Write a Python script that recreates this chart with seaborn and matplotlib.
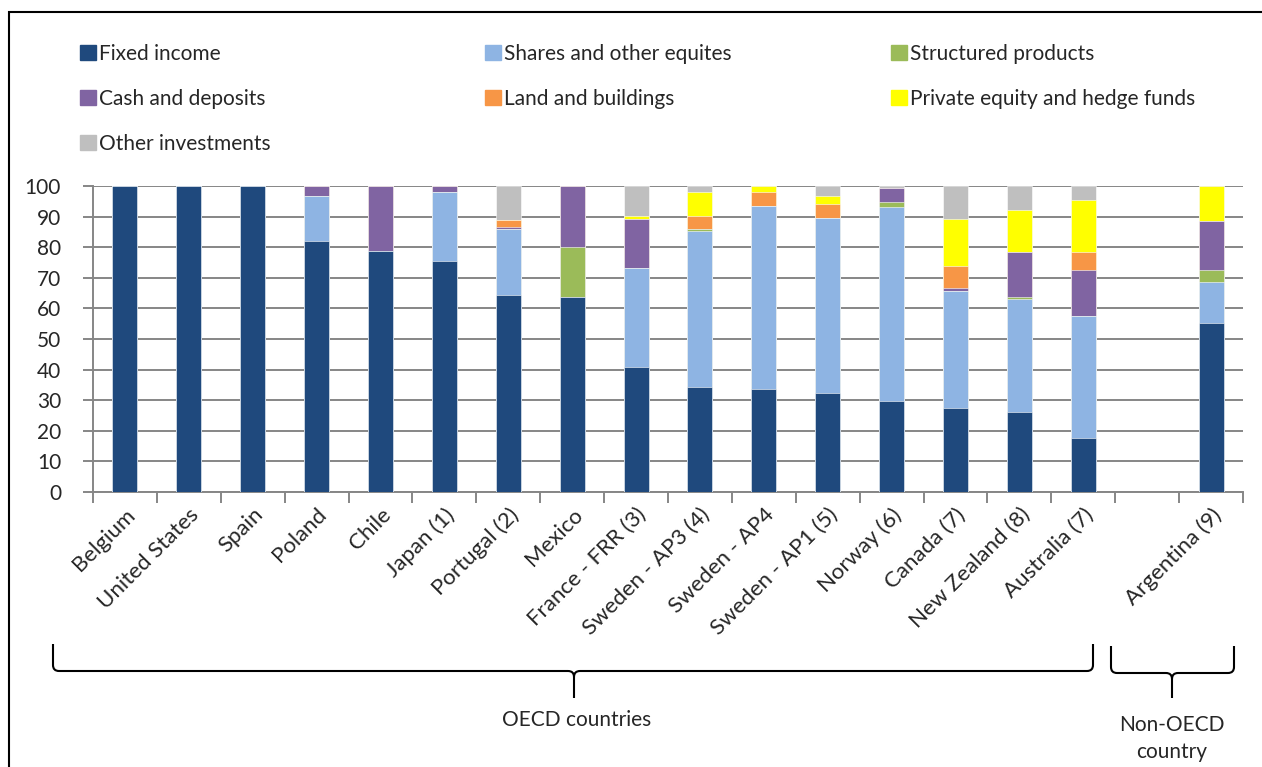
import matplotlib
matplotlib.use("Agg")
import matplotlib.pyplot as plt
import numpy as np
import seaborn as sns
from matplotlib.patches import PathPatch, Rectangle
from matplotlib.path import Path

countries = [
    "Belgium", "United States", "Spain", "Poland", "Chile", "Japan (1)",
    "Portugal (2)", "Mexico", "France - FRR (3)", "Sweden - AP3 (4)",
    "Sweden - AP4", "Sweden - AP1 (5)", "Norway (6)", "Canada (7)",
    "New Zealand (8)", "Australia (7)", "Argentina (9)",
]

assets = [
    "Fixed income", "Shares and other equites", "Structured products",
    "Cash and deposits", "Land and buildings", "Private equity and hedge funds",
    "Other investments",
]

fixed_income = [100, 100, 100, 82.1, 78.8, 75.6, 64.3, 63.6, 40.7, 34.2, 33.6, 32.3, 29.8, 27.3, 26.0, 17.7, 55.3]
shares = [0, 0, 0, 14.6, 0, 22.5, 21.7, 0, 32.5, 51.2, 60.0, 57.4, 63.2, 38.4, 37.1, 39.7, 13.4]
structured = [0, 0, 0, 0, 0, 0, 0, 16.6, 0, 0.6, 0, 0, 1.9, 0, 0.6, 0, 3.9]
cash = [0, 0, 0, 3.3, 21.2, 1.9, 0.6, 19.8, 15.9, 0, 0, 0, 4.3, 1.1, 14.6, 15.2, 15.8]
land = [0, 0, 0, 0, 0, 0, 2.4, 0, 0, 4.3, 4.5, 4.5, 0, 7.1, 0, 5.7, 0]
private_equity = [0, 0, 0, 0, 0, 0, 0, 0, 1.2, 7.8, 1.9, 2.6, 0, 15.3, 14.0, 17.1, 11.6]
other = [0, 0, 0, 0, 0, 0, 11.0, 0, 9.7, 1.9, 0, 3.2, 0.8, 10.8, 7.7, 4.6, 0]

colors = ["#1F497D", "#8EB4E3", "#9BBB59", "#8064A2", "#F79646", "#FFFF00", "#BFBFBF"]

W, H = 1262, 767
sns.set_theme(style="white")
plt.rcParams["font.family"] = ["Lato", "DejaVu Sans"]

fig = plt.figure(figsize=(W / 100, H / 100), dpi=100)
ax = fig.add_axes([93 / W, 1 - 492 / H, (1243 - 93) / W, (492 - 186) / H])

# one empty slot between the OECD group and Argentina
x_pos = np.array([i if i < 16 else i + 1 for i in range(len(countries))])

layers = np.array([fixed_income, shares, structured, cash, land, private_equity, other])
cum = np.cumsum(layers, axis=0)
for k in range(len(assets) - 1, -1, -1):
    sns.barplot(x=x_pos, y=cum[k], color=colors[k], saturation=1, width=0.39,
                native_scale=True, errorbar=None, ax=ax, zorder=3,
                edgecolor="white", linewidth=0.4)

grid_c = "#868686"
ax.set_xlim(-0.5, 17.5)
ax.set_ylim(0, 100)
ax.set_yticks(np.arange(0, 101, 10))
ax.yaxis.grid(True, color=grid_c, linewidth=1.4, zorder=0)
ax.set_axisbelow(True)
for s in ["top", "right"]:
    ax.spines[s].set_visible(False)
for s in ["left", "bottom"]:
    ax.spines[s].set_color(grid_c)
    ax.spines[s].set_linewidth(1.4)
ax.tick_params(axis="y", length=7, width=1.4, color=grid_c, labelsize=15, pad=16, left=True)
ax.set_xticks(x_pos)
ax.set_xticklabels(countries, rotation=45, ha="right", rotation_mode="anchor", fontsize=16)
ax.tick_params(axis="x", length=0, pad=9)
ax.set_xticks(np.arange(-0.5, 18, 1), minor=True)
ax.tick_params(axis="x", which="minor", length=8, width=1.4, color=grid_c, bottom=True)
ax.set_xlabel("")
ax.set_ylabel("")

# legend: three columns like the original
handles = [Rectangle((0, 0), 1, 1, color=c) for c in colors]
col_x = [80, 485, 891]
col_items = [[0, 3, 6], [1, 4], [2, 5]]
for cx, items in zip(col_x, col_items):
    fig.legend([handles[i] for i in items], [assets[i] for i in items],
               loc="upper left", bbox_to_anchor=(cx / W, 1 - 44 / H),
               frameon=False, fontsize=15, handlelength=0.75, handleheight=0.75,
               handletextpad=0.15, labelspacing=1.2, borderpad=0, borderaxespad=0)


def brace(x0, x1, xm, ytop, ymid, ytip, r=6):
    pts = [
        (x0, ytop), (x0, ymid - r), (x0, ymid), (x0 + r, ymid),
        (xm - r, ymid), (xm, ymid), (xm, ymid + r), (xm, ytip),
        (xm, ymid + r), (xm, ymid), (xm + r, ymid),
        (x1 - r, ymid), (x1, ymid), (x1, ymid - r), (x1, ytop),
    ]
    codes = [Path.MOVETO, Path.LINETO, Path.CURVE3, Path.CURVE3,
             Path.LINETO, Path.CURVE3, Path.CURVE3, Path.LINETO,
             Path.MOVETO, Path.CURVE3, Path.CURVE3,
             Path.LINETO, Path.CURVE3, Path.CURVE3, Path.LINETO]
    verts = [(x / W, 1 - y / H) for x, y in pts]
    fig.patches.append(PathPatch(Path(verts, codes), transform=fig.transFigure,
                                 fill=False, edgecolor="black", linewidth=1.5))


brace(53, 1093, 574, 644, 671, 698)
brace(1111, 1234, 1172, 646, 673, 698)
fig.text(577 / W, 1 - 720 / H, "OECD countries", ha="center", va="center", fontsize=15)
fig.text(1172 / W, 1 - 725 / H, "Non-OECD", ha="center", va="center", fontsize=15)
fig.text(1172 / W, 1 - 752 / H, "country", ha="center", va="center", fontsize=15)

# outer frame
fig.patches.append(Rectangle((9 / W, -0.1), 1.2, 1 - 12 / H + 0.1, transform=fig.transFigure,
                             fill=False, edgecolor="black", linewidth=1.5))

fig.savefig("out.png", dpi=100)
